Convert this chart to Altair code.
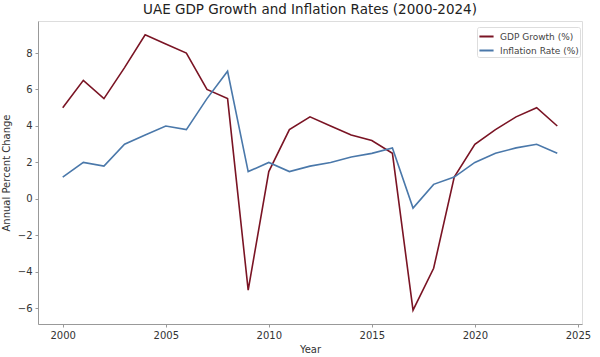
import altair as alt
import pandas as pd

years = list(range(2000, 2025))
gdp = [5.0, 6.5, 5.5, 7.2, 9.0, 8.5, 8.0, 6.0, 5.5, -5.0, 1.5, 3.8, 4.5, 4.0, 3.5,
       3.2, 2.5, -6.1, -3.8, 1.2, 3.0, 3.8, 4.5, 5.0, 4.0]
inflation = [1.2, 2.0, 1.8, 3.0, 3.5, 4.0, 3.8, 5.5, 7.0, 1.5, 2.0, 1.5, 1.8, 2.0, 2.3,
             2.5, 2.8, -0.5, 0.8, 1.2, 2.0, 2.5, 2.8, 3.0, 2.5]
series_names = ["GDP Growth (%)", "Inflation Rate (%)"]
series_colors = ["#7a1424", "#4a78aa"]

rows = []
for y, g, i in zip(years, gdp, inflation):
    rows.append({"Year": y, "Series": series_names[0], "Value": g})
    rows.append({"Year": y, "Series": series_names[1], "Value": i})
df = pd.DataFrame(rows)

font = "DejaVu Sans"

chart = alt.Chart(df).mark_line(strokeWidth=1.6).encode(
    x=alt.X("Year:Q", scale=alt.Scale(domain=[1998.8, 2025.2], nice=False, zero=False),
            axis=alt.Axis(title="Year", values=[2000, 2005, 2010, 2015, 2020, 2025],
                          format="d", grid=False, domainColor="#999", tickColor="#999",
                          tickSize=3, labelColor="#333", labelFontSize=10, labelFont=font,
                          titleFont=font, titleFontSize=10, titleFontWeight="normal",
                          titleColor="#333", titlePadding=4, labelPadding=3)),
    y=alt.Y("Value:Q", scale=alt.Scale(domain=[-6.855, 9.755], nice=False, zero=False),
            axis=alt.Axis(title="Annual Percent Change", values=[-6, -4, -2, 0, 2, 4, 6, 8],
                          grid=False, domainColor="#999", tickColor="#999", tickSize=3,
                          labelColor="#333", labelFontSize=10, labelFont=font,
                          titleFont=font, titleFontSize=10, titleFontWeight="normal",
                          titleColor="#333", titlePadding=6, labelPadding=3)),
    color=alt.Color("Series:N", sort=series_names,
                    scale=alt.Scale(domain=series_names, range=series_colors),
                    legend=alt.Legend(title=None, orient="none", legendX=439, legendY=6,
                                      symbolType="stroke", symbolStrokeWidth=2,
                                      symbolSize=200, labelFont=font, labelFontSize=9,
                                      labelColor="#444", strokeColor="#ddd", fillColor="white",
                                      padding=1, rowPadding=-1, labelOffset=5,
                                      cornerRadius=2)),
).properties(
    width=544, height=303,
    padding={"left": 38, "top": 21, "right": 18, "bottom": 33},
    autosize=alt.AutoSizeParams(type="none"),
    title=alt.TitleParams("UAE GDP Growth and Inflation Rates (2000-2024)", font=font,
                          fontSize=13.5, fontWeight="normal", color="#222", offset=5,
                          anchor="middle"),
).configure_view(stroke=None).configure(background="white")

chart.save("out.html", embed_options={"renderer": "svg", "actions": False})
